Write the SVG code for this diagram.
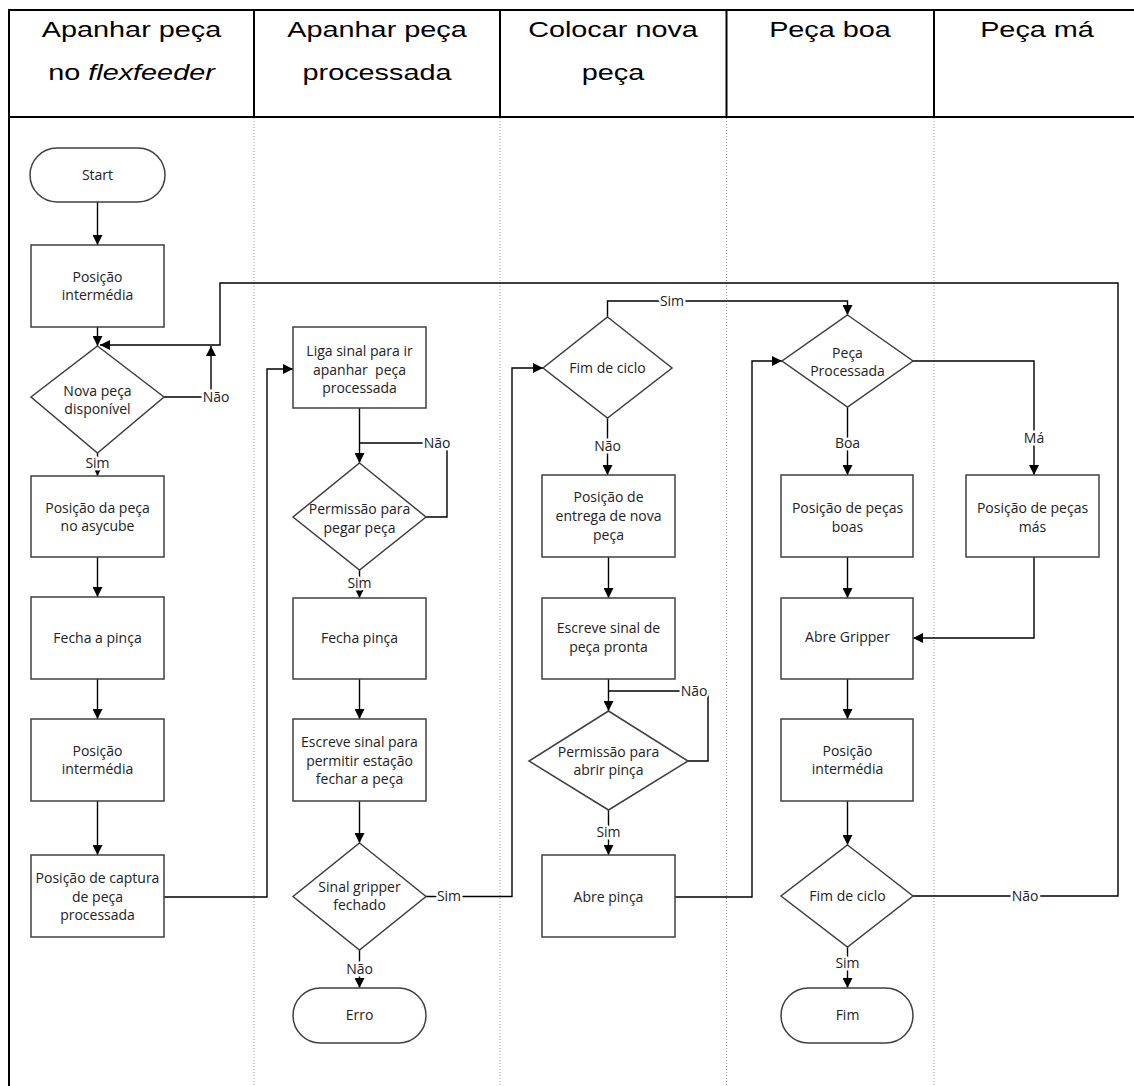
<svg xmlns="http://www.w3.org/2000/svg" width="1134" height="1086" viewBox="0 0 1134 1086">
<style>
.hdr{font-family:"Liberation Sans",Arial,sans-serif;font-size:22px;fill:#000;text-anchor:middle}
.tbl{stroke:#000;stroke-width:2;fill:none}
.lane{stroke:#9a9a9a;stroke-width:1;stroke-dasharray:1 2;fill:none}
.node{fill:#fff;stroke:#404040;stroke-width:1.5}
.t{font-family:"Open Sans","Noto Sans",sans-serif;font-size:14px;fill:#222;text-anchor:middle}
.c{fill:none;stroke:#000;stroke-width:1.4}
.lbl{font-family:"Open Sans","Noto Sans",sans-serif;font-size:14px;fill:#222;text-anchor:middle;stroke:#fff;stroke-width:5;paint-order:stroke;stroke-linejoin:round}
</style>
<defs>
<marker id="ah" markerUnits="userSpaceOnUse" markerWidth="10" markerHeight="10" viewBox="0 0 10 10" refX="10" refY="5" orient="auto">
<path d="M0,0 L10,5 L0,10 z" fill="#000"/>
</marker>
</defs>
<rect width="1134" height="1086" fill="#fff"/>
<g id="table">
<line class="lane" x1="254" y1="118" x2="254" y2="1086"/>
<line class="lane" x1="500" y1="118" x2="500" y2="1086"/>
<line class="lane" x1="726.5" y1="118" x2="726.5" y2="1086"/>
<line class="lane" x1="934" y1="118" x2="934" y2="1086"/>
<line class="tbl" x1="8" y1="10" x2="1134" y2="10"/>
<line class="tbl" x1="8" y1="117" x2="1134" y2="117"/>
<line class="tbl" x1="9" y1="9" x2="9" y2="1086"/>
<line class="tbl" x1="254" y1="10" x2="254" y2="117"/>
<line class="tbl" x1="500" y1="10" x2="500" y2="117"/>
<line class="tbl" x1="726.5" y1="10" x2="726.5" y2="117"/>
<line class="tbl" x1="934" y1="10" x2="934" y2="117"/>
<g transform="translate(131.5 0) scale(1.31 1)"><text class="hdr" x="0" y="37">Apanhar peça</text><text class="hdr" x="0" y="80">no <tspan font-style="italic">flexfeeder</tspan></text></g>
<g transform="translate(377 0) scale(1.31 1)"><text class="hdr" x="0" y="37">Apanhar peça</text><text class="hdr" x="0" y="80">processada</text></g>
<g transform="translate(613 0) scale(1.31 1)"><text class="hdr" x="0" y="37">Colocar nova</text><text class="hdr" x="0" y="80">peça</text></g>
<g transform="translate(830 0) scale(1.31 1)"><text class="hdr" x="0" y="37">Peça boa</text></g>
<g transform="translate(1037 0) scale(1.31 1)"><text class="hdr" x="0" y="37">Peça má</text></g>
</g>
<g id="connectors">
<path class="c" d="M97.5,202 V245" marker-end="url(#ah)"/>
<path class="c" d="M97.5,327 V346" marker-end="url(#ah)"/>
<path class="c" d="M164,397 H211 V346" marker-end="url(#ah)"/>
<path class="c" d="M913,896 H1118 V283 H220 V345 H100" marker-end="url(#ah)"/>
<path class="c" d="M97.5,453 V476" marker-end="url(#ah)"/>
<path class="c" d="M97.5,557 V597" marker-end="url(#ah)"/>
<path class="c" d="M97.5,679 V719" marker-end="url(#ah)"/>
<path class="c" d="M97.5,801 V855" marker-end="url(#ah)"/>
<path class="c" d="M164,897 H267 V369 H293" marker-end="url(#ah)"/>
<path class="c" d="M359.5,408 V463" marker-end="url(#ah)"/>
<path class="c" d="M426,517 H447 V443 H359.5"/>
<path class="c" d="M359.5,570 V598" marker-end="url(#ah)"/>
<path class="c" d="M359.5,679 V719" marker-end="url(#ah)"/>
<path class="c" d="M359.5,801 V843" marker-end="url(#ah)"/>
<path class="c" d="M426,896.5 H512 V368 H543" marker-end="url(#ah)"/>
<path class="c" d="M359.5,950 V988" marker-end="url(#ah)"/>
<path class="c" d="M607.5,317 V301 H847.5 V315" marker-end="url(#ah)"/>
<path class="c" d="M607.5,418 V475" marker-end="url(#ah)"/>
<path class="c" d="M608.5,557 V598" marker-end="url(#ah)"/>
<path class="c" d="M608.5,679 V711" marker-end="url(#ah)"/>
<path class="c" d="M688,761 H708 V691 H608.5"/>
<path class="c" d="M608.5,810 V855" marker-end="url(#ah)"/>
<path class="c" d="M675,897 H752 V361 H782" marker-end="url(#ah)"/>
<path class="c" d="M847.5,407 V475" marker-end="url(#ah)"/>
<path class="c" d="M913,361 H1034 V475" marker-end="url(#ah)"/>
<path class="c" d="M847.5,557 V598" marker-end="url(#ah)"/>
<path class="c" d="M1034,557 V638 H913" marker-end="url(#ah)"/>
<path class="c" d="M847.5,679 V719" marker-end="url(#ah)"/>
<path class="c" d="M847.5,801 V845" marker-end="url(#ah)"/>
<path class="c" d="M847.5,947 V988" marker-end="url(#ah)"/>
<text class="lbl" x="216" y="402">Não</text>
<text class="lbl" x="1025" y="901">Não</text>
<text class="lbl" x="97.5" y="468">Sim</text>
<text class="lbl" x="437" y="448">Não</text>
<text class="lbl" x="359.5" y="588">Sim</text>
<text class="lbl" x="449" y="901">Sim</text>
<text class="lbl" x="359.5" y="974">Não</text>
<text class="lbl" x="672" y="306">Sim</text>
<text class="lbl" x="607.5" y="451">Não</text>
<text class="lbl" x="694" y="696">Não</text>
<text class="lbl" x="608.5" y="837">Sim</text>
<text class="lbl" x="847.5" y="448">Boa</text>
<text class="lbl" x="1034" y="443">Má</text>
<text class="lbl" x="847.5" y="968">Sim</text>
</g>
<g id="start"><rect class="node" x="30" y="148" width="135" height="54" rx="27"/><text class="t" x="97.5" y="180">Start</text></g>
<g id="pos-intermedia-1"><rect class="node" x="31" y="245" width="133" height="82"/><text class="t" x="97.5" y="282">Posição</text><text class="t" x="97.5" y="300">intermédia</text></g>
<g id="nova-peca"><polygon class="node" points="97.5,346 164,397 97.5,453 31,397"/><text class="t" x="97.5" y="396">Nova peça</text><text class="t" x="97.5" y="414">disponível</text></g>
<g id="pos-asycube"><rect class="node" x="31" y="476" width="133" height="81"/><text class="t" x="97.5" y="513">Posição da peça</text><text class="t" x="97.5" y="531">no asycube</text></g>
<g id="fecha-a-pinca"><rect class="node" x="31" y="597" width="133" height="82"/><text class="t" x="97.5" y="643">Fecha a pinça</text></g>
<g id="pos-intermedia-2"><rect class="node" x="31" y="719" width="133" height="82"/><text class="t" x="97.5" y="756">Posição</text><text class="t" x="97.5" y="774">intermédia</text></g>
<g id="pos-captura"><rect class="node" x="31" y="855" width="133" height="82"/><text class="t" x="97.5" y="883">Posição de captura</text><text class="t" x="97.5" y="902">de peça</text><text class="t" x="97.5" y="920">processada</text></g>
<g id="liga-sinal"><rect class="node" x="293" y="327" width="133" height="81"/><text class="t" x="359.5" y="356">Liga sinal para ir</text><text class="t" x="359.5" y="375">apanhar&#160; peça</text><text class="t" x="359.5" y="393">processada</text></g>
<g id="permissao-pegar"><polygon class="node" points="359.5,463 426,517 359.5,570 293,517"/><text class="t" x="359.5" y="514">Permissão para</text><text class="t" x="359.5" y="533">pegar peça</text></g>
<g id="fecha-pinca"><rect class="node" x="293" y="598" width="133" height="81"/><text class="t" x="359.5" y="643">Fecha pinça</text></g>
<g id="escreve-sinal-permitir"><rect class="node" x="293" y="719" width="133" height="82"/><text class="t" x="359.5" y="747">Escreve sinal para</text><text class="t" x="359.5" y="766">permitir estação</text><text class="t" x="359.5" y="784">fechar a peça</text></g>
<g id="sinal-gripper"><polygon class="node" points="359.5,843 426,896.5 359.5,950 293,896.5"/><text class="t" x="359.5" y="892">Sinal gripper</text><text class="t" x="359.5" y="910">fechado</text></g>
<g id="erro"><rect class="node" x="293" y="988" width="133" height="55" rx="27.5"/><text class="t" x="359.5" y="1020">Erro</text></g>
<g id="fim-ciclo-1"><polygon class="node" points="607.5,317 672,368 607.5,418 543,368"/><text class="t" x="607.5" y="373">Fim de ciclo</text></g>
<g id="pos-entrega"><rect class="node" x="542" y="475" width="133" height="82"/><text class="t" x="608.5" y="502">Posição de</text><text class="t" x="608.5" y="521">entrega de nova</text><text class="t" x="608.5" y="540">peça</text></g>
<g id="escreve-sinal-pronta"><rect class="node" x="542" y="598" width="133" height="81"/><text class="t" x="608.5" y="633">Escreve sinal de</text><text class="t" x="608.5" y="652">peça pronta</text></g>
<g id="permissao-abrir"><polygon class="node" points="608.5,711 688,761 608.5,810 529,761"/><text class="t" x="608.5" y="757">Permissão para</text><text class="t" x="608.5" y="775">abrir pinça</text></g>
<g id="abre-pinca"><rect class="node" x="542" y="855" width="133" height="82"/><text class="t" x="608.5" y="902">Abre pinça</text></g>
<g id="peca-processada"><polygon class="node" points="847.5,315 913,361 847.5,407 782,361"/><text class="t" x="847.5" y="358">Peça</text><text class="t" x="847.5" y="376">Processada</text></g>
<g id="pos-boas"><rect class="node" x="781" y="475" width="132" height="82"/><text class="t" x="847.5" y="513">Posição de peças</text><text class="t" x="847.5" y="532">boas</text></g>
<g id="pos-mas"><rect class="node" x="966" y="475" width="133" height="82"/><text class="t" x="1032.5" y="513">Posição de peças</text><text class="t" x="1032.5" y="532">más</text></g>
<g id="abre-gripper"><rect class="node" x="781" y="598" width="132" height="81"/><text class="t" x="847.5" y="642">Abre Gripper</text></g>
<g id="pos-intermedia-3"><rect class="node" x="781" y="719" width="132" height="82"/><text class="t" x="847.5" y="756">Posição</text><text class="t" x="847.5" y="774">intermédia</text></g>
<g id="fim-ciclo-2"><polygon class="node" points="847.5,845 913,896 847.5,947 781,896"/><text class="t" x="847.5" y="901">Fim de ciclo</text></g>
<g id="fim"><rect class="node" x="781" y="988" width="132" height="55" rx="27.5"/><text class="t" x="847.5" y="1020">Fim</text></g>
</svg>
